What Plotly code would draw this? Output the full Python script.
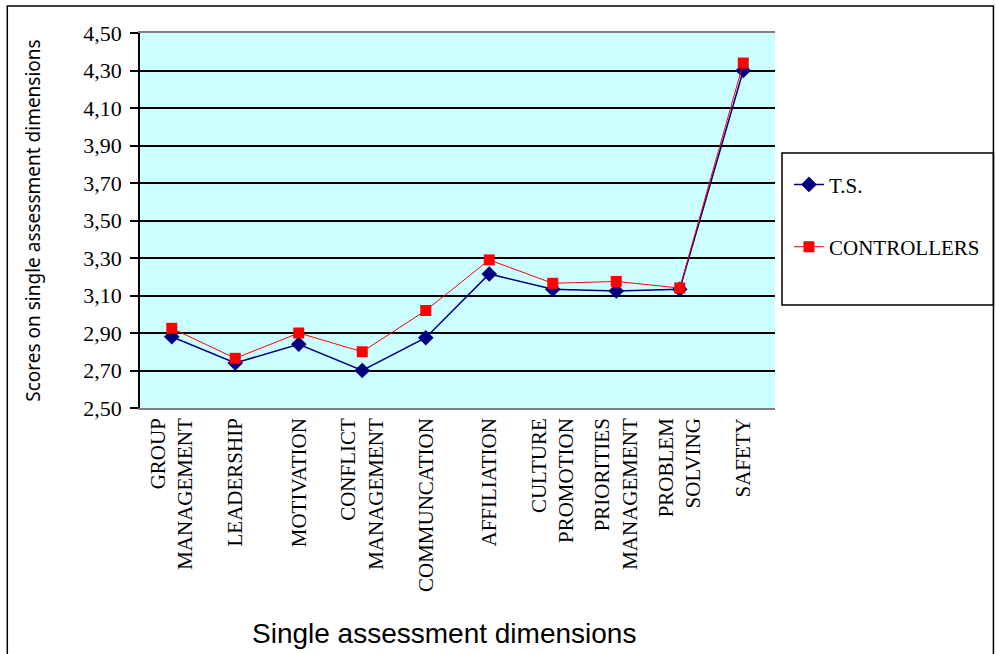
import plotly.graph_objects as go

# Assessment dimensions and mean scores per group
categories = ["GROUP MANAGEMENT", "LEADERSHIP", "MOTIVATION", "CONFLICT MANAGEMENT",
              "COMMUNCATION", "AFFILIATION", "CULTURE PROMOTION",
              "PRIORITIES MANAGEMENT", "PROBLEM SOLVING", "SAFETY"]
tick_labels = ["GROUP<br>MANAGEMENT", "LEADERSHIP", "MOTIVATION", "CONFLICT<br>MANAGEMENT",
               "COMMUNCATION", "AFFILIATION", "CULTURE<br>PROMOTION",
               "PRIORITIES<br>MANAGEMENT", "PROBLEM<br>SOLVING", "SAFETY"]
ts_scores = [2.88, 2.74, 2.84, 2.70, 2.875, 3.215, 3.133, 3.124, 3.133, 4.30]
controllers_scores = [2.925, 2.765, 2.90, 2.80, 3.02, 3.29, 3.165, 3.175, 3.14, 4.34]

serif = "Liberation Serif"

fig = go.Figure()
fig.add_trace(go.Scatter(
    x=categories, y=ts_scores, name="T.S.", mode="lines+markers",
    line=dict(color="#000080", width=1.5),
    marker=dict(symbol="diamond", size=12, color="#000080"),
    legendgroup="a",
))
fig.add_trace(go.Scatter(
    x=categories, y=controllers_scores, name="CONTROLLERS", mode="lines+markers",
    line=dict(color="#FF0000", width=1),
    marker=dict(symbol="square", size=11, color="#FF0000"),
    legendgroup="b",
))

fig.update_layout(
    width=996, height=654,
    margin=dict(l=140, r=221, t=33, b=246, autoexpand=False),
    paper_bgcolor="white",
    plot_bgcolor="#CCFFFF",
    separators=",.",
    showlegend=True,
    legend=dict(
        x=1.022, y=0.65, xanchor="left", yanchor="top",
        font=dict(family=serif, size=21, color="black"),
        bgcolor="rgba(0,0,0,0)", borderwidth=0,
        traceorder="grouped", tracegroupgap=32,
    ),
    shapes=[
        # legend frame
        dict(type="rect", xref="paper", yref="paper",
             x0=1.011, x1=1.344, y0=0.275, y1=0.68,
             line=dict(color="black", width=1.5)),
        # outer chart frame
        dict(type="rect", xref="paper", yref="paper",
             x0=-0.209, x1=1.344, y0=-0.66, y1=1.072,
             line=dict(color="black", width=1.5)),
    ],
    annotations=[
        dict(text="Single assessment dimensions", xref="paper", yref="paper",
             x=0.479, y=-0.6, xanchor="center", yanchor="middle", showarrow=False,
             font=dict(family="Liberation Sans", size=28, color="black")),
    ],
)

fig.update_xaxes(
    type="category", range=[-0.5, 9.5],
    tickmode="array", tickvals=categories, ticktext=tick_labels,
    tickangle=-90, tickfont=dict(family=serif, size=21, color="black"),
    showgrid=False, showline=True, linecolor="#808080", linewidth=1.5,
    mirror=True, ticks="",
)
fig.update_yaxes(
    range=[2.5, 4.5], dtick=0.2, tick0=2.5, tickformat=".2f",
    tickfont=dict(family=serif, size=22, color="black"),
    showgrid=True, gridcolor="black", gridwidth=1.5,
    showline=True, linecolor="black", linewidth=1.5,
    ticks="outside", ticklen=8, tickcolor="black", tickwidth=1.5,
    ticklabelstandoff=4,
    zeroline=False,
    title=dict(text="Scores on single assessment dimensions",
               font=dict(family="Noto Sans", size=19, color="black"),
               standoff=38),
)

fig.write_html("out.html")
